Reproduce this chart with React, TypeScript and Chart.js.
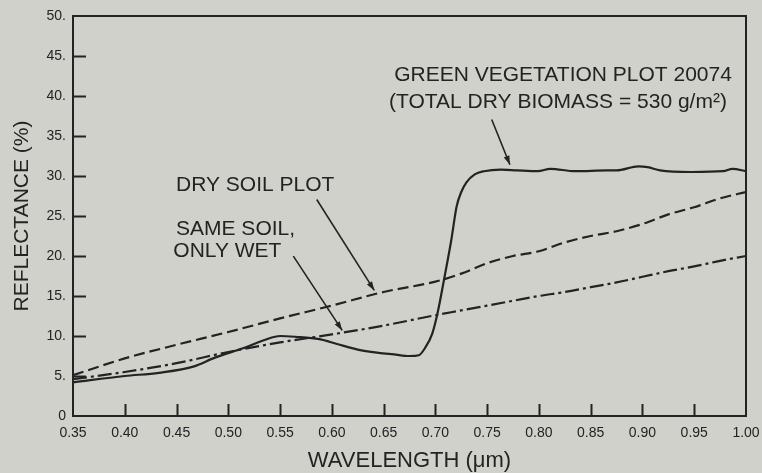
import React, { useEffect, useRef } from "react";
import { Chart, registerables } from "chart.js";

Chart.register(...registerables);

// ---- Data ----
const soilWavelengths = [
  0.35, 0.4, 0.45, 0.5, 0.55, 0.6, 0.65, 0.7, 0.725, 0.75, 0.775, 0.8, 0.825, 0.85, 0.875, 0.9,
  0.925, 0.95, 0.975, 1.0,
];
const drySoil = [
  5.1, 7.2, 8.9, 10.5, 12.2, 13.8, 15.5, 16.8, 17.8, 19.1, 20.0, 20.6, 21.7, 22.5, 23.1, 24.0,
  25.2, 26.1, 27.2, 28.0,
];
const wetSoil = [
  4.6, 5.5, 6.6, 8.0, 9.2, 10.2, 11.3, 12.6, 13.2, 13.8, 14.4, 15.0, 15.5, 16.1, 16.7, 17.4,
  18.1, 18.7, 19.4, 20.0,
];

const vegWavelengths = [
  0.35, 0.4, 0.433, 0.467, 0.487, 0.515, 0.535, 0.55, 0.565, 0.588, 0.605, 0.625, 0.645, 0.66,
  0.675, 0.684, 0.69, 0.697, 0.702, 0.709, 0.7155, 0.7205, 0.725, 0.73, 0.738, 0.747, 0.763,
  0.779, 0.799, 0.811, 0.835, 0.866, 0.875, 0.896, 0.905, 0.917, 0.947, 0.978, 0.987, 1.0,
];
const vegReflectance = [
  4.2, 5.0, 5.4, 6.2, 7.3, 8.5, 9.5, 10.0, 9.9, 9.6, 9.0, 8.3, 7.9, 7.7,
  7.5, 7.6, 8.5, 10.3, 12.8, 17.5, 22.1, 26.2, 28.0, 29.2, 30.2, 30.6, 30.8,
  30.7, 30.6, 30.9, 30.6, 30.7, 30.7, 31.2, 31.1, 30.7, 30.5, 30.6, 30.9, 30.6,
];

const xTickValues = [0.35, 0.4, 0.45, 0.5, 0.55, 0.6, 0.65, 0.7, 0.75, 0.8, 0.85, 0.9, 0.95, 1.0];
const xTickLabels = ["0.35", "0.40", "0.45", "0.50", "0.55", "0.60", "0.65", "0.70", "0.75", "0.80", "0.85", "0.90", "0.95", "1.00"];
const yTickValues = [0, 5, 10, 15, 20, 25, 30, 35, 40, 45, 50];
const yTickLabels = ["0", "5.", "10.", "15.", "20.", "25.", "30.", "35.", "40.", "45.", "50."];

// Annotations (in data coordinates)
const annotationTexts = [
  { text: "GREEN VEGETATION PLOT 20074", x: 0.8233, y: 42.6, align: "center" },
  { text: "(TOTAL DRY BIOMASS = 530 g/m²)", x: 0.8184, y: 39.25, align: "center" },
  { text: "DRY SOIL PLOT", x: 0.4495, y: 28.9, align: "left" },
  { text: "SAME SOIL,", x: 0.4495, y: 23.4, align: "left" },
  { text: "ONLY WET", x: 0.4469, y: 20.6, align: "left" },
];
const annotationArrows = [
  { x1: 0.7544, y1: 37.06, x2: 0.772, y2: 31.4 },
  { x1: 0.5854, y1: 27.06, x2: 0.641, y2: 15.7 },
  { x1: 0.5628, y1: 19.98, x2: 0.61, y2: 10.7 },
];

const INK = "#232323";
const BG = "#d1d1cc";
const FONT = "'Liberation Sans', Arial, Helvetica, sans-serif";

const decorPlugin = {
  id: "decor",
  afterDraw(chart: any) {
    const { ctx, chartArea } = chart;
    const xs = chart.scales.x;
    const ys = chart.scales.y;
    ctx.save();
    ctx.strokeStyle = INK;
    ctx.lineWidth = 2;
    ctx.strokeRect(chartArea.left, chartArea.top, chartArea.right - chartArea.left, chartArea.bottom - chartArea.top);
    ctx.beginPath();
    xTickValues.forEach((v, i) => {
      if (i === 0 || i === xTickValues.length - 1) return;
      const px = Math.round(xs.getPixelForValue(v)) + 0.5;
      ctx.moveTo(px, chartArea.bottom);
      ctx.lineTo(px, chartArea.bottom - 12);
    });
    yTickValues.forEach((v, i) => {
      if (i === 0 || i === yTickValues.length - 1) return;
      const py = Math.round(ys.getPixelForValue(v)) + 0.5;
      ctx.moveTo(chartArea.left, py);
      ctx.lineTo(chartArea.left + 13, py);
    });
    ctx.stroke();

    ctx.fillStyle = INK;
    ctx.font = `21px ${FONT}`;
    ctx.textBaseline = "middle";
    annotationTexts.forEach((a) => {
      ctx.textAlign = a.align as CanvasTextAlign;
      ctx.fillText(a.text, xs.getPixelForValue(a.x), ys.getPixelForValue(a.y));
    });

    ctx.lineWidth = 1.6;
    annotationArrows.forEach((a) => {
      const x1 = xs.getPixelForValue(a.x1);
      const y1 = ys.getPixelForValue(a.y1);
      const x2 = xs.getPixelForValue(a.x2);
      const y2 = ys.getPixelForValue(a.y2);
      ctx.beginPath();
      ctx.moveTo(x1, y1);
      ctx.lineTo(x2, y2);
      ctx.stroke();
      const ang = Math.atan2(y2 - y1, x2 - x1);
      const L = 9;
      const W = 3;
      ctx.beginPath();
      ctx.moveTo(x2, y2);
      ctx.lineTo(x2 - L * Math.cos(ang) + W * Math.sin(ang), y2 - L * Math.sin(ang) - W * Math.cos(ang));
      ctx.lineTo(x2 - L * Math.cos(ang) - W * Math.sin(ang), y2 - L * Math.sin(ang) + W * Math.cos(ang));
      ctx.closePath();
      ctx.fill();
    });
    ctx.restore();
  },
};

export default function App() {
  const ref = useRef<HTMLCanvasElement | null>(null);

  useEffect(() => {
    if (!ref.current) return;
    const chart = new Chart(ref.current, {
      type: "line",
      data: {
        datasets: [
          {
            label: "Green vegetation",
            data: vegWavelengths.map((x, i) => ({ x, y: vegReflectance[i] })),
            borderColor: INK,
            borderWidth: 2.2,
            pointRadius: 0,
            cubicInterpolationMode: "monotone",
            fill: false,
          },
          {
            label: "Dry soil",
            data: soilWavelengths.map((x, i) => ({ x, y: drySoil[i] })),
            borderColor: INK,
            borderWidth: 2.2,
            borderDash: [11, 5],
            pointRadius: 0,
            cubicInterpolationMode: "monotone",
            fill: false,
          },
          {
            label: "Wet soil",
            data: soilWavelengths.map((x, i) => ({ x, y: wetSoil[i] })),
            borderColor: INK,
            borderWidth: 2.2,
            borderDash: [14, 4, 3, 4],
            pointRadius: 0,
            cubicInterpolationMode: "monotone",
            fill: false,
          },
        ],
      },
      options: {
        animation: false,
        responsive: false,
        devicePixelRatio: 1,
        layout: { padding: { left: 0, top: 16, right: 16, bottom: 0 } },
        plugins: { legend: { display: false }, tooltip: { enabled: false } },
        scales: {
          x: {
            type: "linear",
            min: 0.35,
            max: 1.0,
            afterBuildTicks: (s: any) => {
              s.ticks = xTickValues.map((v) => ({ value: v }));
            },
            afterFit: (s: any) => {
              s.height = 57;
              s.paddingLeft = 0;
              s.paddingRight = 0;
            },
            grid: { display: false, drawTicks: false },
            border: { display: false },
            ticks: {
              color: INK,
              font: { family: FONT, size: 14 },
              padding: 9,
              maxRotation: 0,
              autoSkip: false,
              callback: (_v: any, i: number) => xTickLabels[i],
            },
            title: {
              display: true,
              text: "WAVELENGTH (μm)",
              color: INK,
              font: { family: FONT, size: 22 },
              padding: { top: 0, bottom: -1 },
            },
          },
          y: {
            type: "linear",
            min: 0,
            max: 50,
            afterBuildTicks: (s: any) => {
              s.ticks = yTickValues.map((v) => ({ value: v }));
            },
            afterFit: (s: any) => {
              s.width = 73;
              s.paddingTop = 0;
              s.paddingBottom = 0;
            },
            grid: { display: false, drawTicks: false },
            border: { display: false },
            ticks: {
              color: INK,
              font: { family: FONT, size: 14 },
              padding: 7,
              autoSkip: false,
              callback: (_v: any, i: number) => yTickLabels[i],
            },
            title: {
              display: true,
              text: "REFLECTANCE (%)",
              color: INK,
              font: { family: FONT, size: 21 },
              padding: { top: 10, bottom: 0 },
            },
          },
        },
      },
      plugins: [decorPlugin],
    } as any);
    return () => chart.destroy();
  }, []);

  return (
    <div style={{ position: "fixed", left: 0, top: 0, width: 762, height: 473, background: BG }}>
      <canvas ref={ref} width={762} height={473} style={{ display: "block", width: 762, height: 473 }} />
    </div>
  );
}
